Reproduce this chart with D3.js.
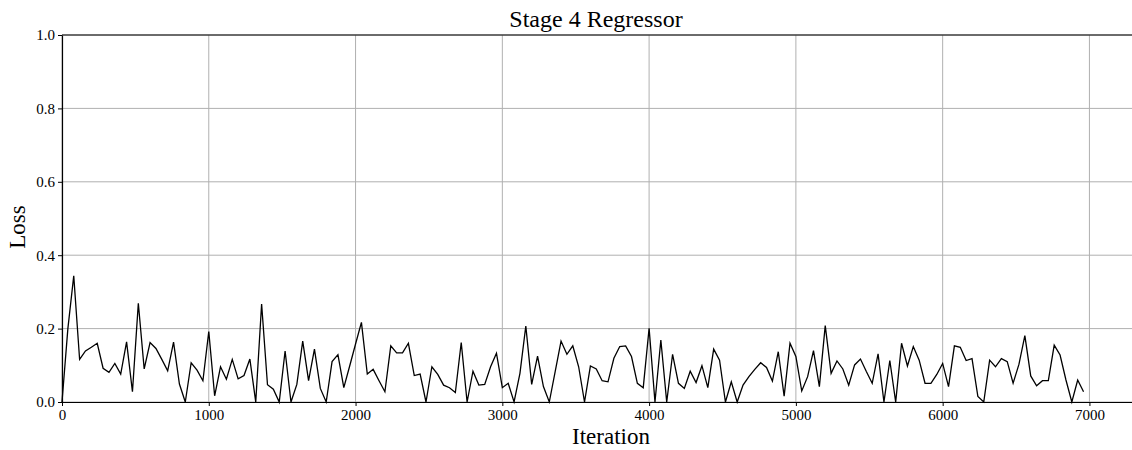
<html>
  <head>
    <title>Stage 4 Regressor</title>
    <script type="text/javascript" src="https://cdn.jsdelivr.net/npm/d3@7/dist/d3.min.js" charset="utf-8"></script>
    <style>
      body { margin: 0; background: #fff; }
      text { font-family: "Liberation Serif", "DejaVu Serif", serif; }
    </style>
  </head>
  <body>
    <div id="main"></div>
  <script>
    // loss logged every 40 iterations
    var iterStep = 40;
    var loss = [
      0, 0.20, 0.344, 0.116, 0.139, 0.149, 0.16, 0.092, 0.081, 0.105,
      0.076, 0.164, 0.028, 0.269, 0.09, 0.162, 0.146, 0.116, 0.085, 0.163,
      0.049, 0, 0.107, 0.087, 0.058, 0.192, 0.017, 0.096, 0.062, 0.116,
      0.063, 0.072, 0.117, 0, 0.267, 0.047, 0.035, 0, 0.139, 0,
      0.048, 0.166, 0.058, 0.144, 0.037, 0, 0.110, 0.129, 0.039, 0.098,
      0.158, 0.217, 0.076, 0.089, 0.058, 0.028, 0.153, 0.134, 0.134, 0.16,
      0.072, 0.076, 0, 0.096, 0.075, 0.046, 0.039, 0.026, 0.162, 0,
      0.084, 0.046, 0.048, 0.096, 0.133, 0.039, 0.051, 0, 0.078, 0.207,
      0.048, 0.125, 0.042, 0, 0.083, 0.166, 0.13, 0.153, 0.096, 0,
      0.098, 0.09, 0.058, 0.055, 0.119, 0.151, 0.153, 0.124, 0.051, 0.039,
      0.201, 0, 0.169, 0, 0.13, 0.051, 0.037, 0.084, 0.053, 0.099,
      0.039, 0.144, 0.114, 0, 0.055, 0, 0.046, 0.069, 0.089, 0.107,
      0.094, 0.057, 0.137, 0.016, 0.16, 0.124, 0.03, 0.069, 0.14, 0.042,
      0.208, 0.078, 0.112, 0.09, 0.046, 0.101, 0.117, 0.083, 0.051, 0.131,
      0, 0.113, 0, 0.16, 0.098, 0.151, 0.114, 0.051, 0.051, 0.075,
      0.105, 0.042, 0.153, 0.149, 0.113, 0.118, 0.015, 0, 0.114, 0.096,
      0.118, 0.11, 0.051, 0.103, 0.181, 0.071, 0.044, 0.058, 0.058, 0.155,
      0.128, 0.06, 0, 0.06, 0.028
    ];
    var xTicks = [0, 1000, 2000, 3000, 4000, 5000, 6000, 7000];
    var yTicks = [0, 0.2, 0.4, 0.6, 0.8, 1.0];

    var svgWidth = 1132;
    var svgHeight = 450;
    var margin = { top: 35, right: 0, bottom: 48, left: 62 };
    var w = svgWidth - margin.left - margin.right;
    var h = svgHeight - margin.top - margin.bottom;

    var data = loss.map(function(v, i) { return { iter: i * iterStep, loss: v }; });

    var svg = d3.select('#main')
      .append('svg')
      .attr('width', svgWidth)
      .attr('height', svgHeight);

    var g = svg.append('g')
      .attr('transform', 'translate(' + margin.left + ',' + margin.top + ')');

    var x = d3.scaleLinear().domain([0, 7290]).range([0, w]);
    var y = d3.scaleLinear().domain([0, 1]).range([h, 0]);

    // grid
    g.selectAll('.vgrid').data(xTicks).enter().append('line')
      .attr('x1', function(d) { return x(d); })
      .attr('x2', function(d) { return x(d); })
      .attr('y1', 0).attr('y2', h)
      .attr('stroke', '#b0b0b0').attr('stroke-width', 1);
    g.selectAll('.hgrid').data(yTicks).enter().append('line')
      .attr('y1', function(d) { return y(d); })
      .attr('y2', function(d) { return y(d); })
      .attr('x1', 0).attr('x2', w)
      .attr('stroke', '#b0b0b0').attr('stroke-width', 1);

    var line = d3.line()
      .x(function(d) { return x(d.iter); })
      .y(function(d) { return y(d.loss); });

    g.append('path')
      .datum(data)
      .attr('fill', 'none')
      .attr('stroke', '#000')
      .attr('stroke-width', 1.3)
      .attr('stroke-linejoin', 'miter')
      .attr('d', line);

    // axes
    var xAxis = g.append('g')
      .attr('transform', 'translate(0,' + h + ')')
      .call(d3.axisBottom(x).tickValues(xTicks).tickFormat(d3.format('d')).tickSize(4).tickPadding(3).tickSizeOuter(0));
    var yAxis = g.append('g')
      .call(d3.axisLeft(y).tickValues(yTicks).tickFormat(d3.format('.1f')).tickSize(4).tickPadding(3).tickSizeOuter(0));

    [xAxis, yAxis].forEach(function(a) {
      a.select('.domain').attr('stroke', '#000').attr('stroke-width', 1.2);
      a.selectAll('.tick line').attr('stroke', '#000').attr('stroke-width', 1);
      a.selectAll('text').attr('font-size', 15).attr('fill', '#000')
        .style('font-family', '"Liberation Serif", serif');
    });

    // top spine
    g.append('line')
      .attr('x1', 0).attr('x2', w).attr('y1', 0).attr('y2', 0)
      .attr('stroke', '#000').attr('stroke-width', 1.2);

    svg.append('text')
      .attr('x', 596).attr('y', 27)
      .attr('text-anchor', 'middle')
      .attr('font-size', 24)
      .text('Stage 4 Regressor');

    svg.append('text')
      .attr('x', 611).attr('y', 444)
      .attr('text-anchor', 'middle')
      .attr('font-size', 23)
      .text('Iteration');

    svg.append('text')
      .attr('transform', 'translate(25,227) rotate(-90)')
      .attr('text-anchor', 'middle')
      .attr('font-size', 23)
      .text('Loss');
  </script>
  </body>
</html>
